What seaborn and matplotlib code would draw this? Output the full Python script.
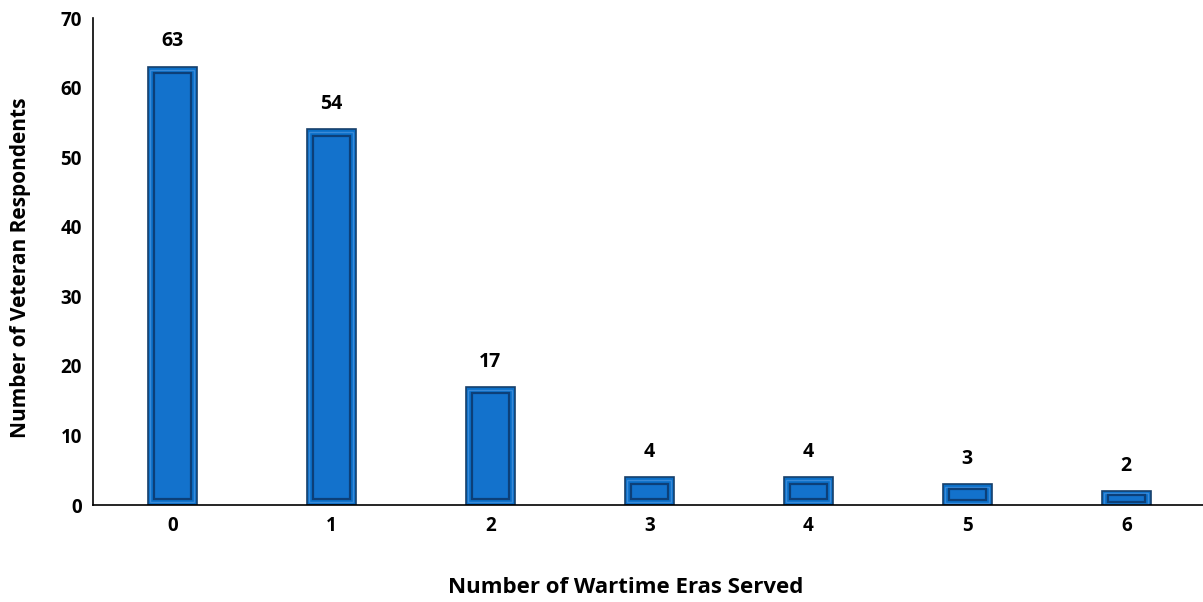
import numpy as np
import pandas as pd
import matplotlib
matplotlib.use("Agg")
import matplotlib.pyplot as plt
import seaborn as sns
from matplotlib.patches import Rectangle

# data
eras = ["0", "1", "2", "3", "4", "5", "6"]
respondents = [63, 54, 17, 4, 4, 3, 2]

df = pd.DataFrame({"eras": eras, "respondents": respondents})

sns.set_theme(style="white")
plt.rcParams["font.family"] = ["Open Sans", "DejaVu Sans"]
plt.rcParams["text.color"] = "black"
plt.rcParams["axes.labelcolor"] = "black"
plt.rcParams["xtick.color"] = "black"
plt.rcParams["ytick.color"] = "black"

fig = plt.figure(figsize=(12.03, 6.02), dpi=100)
ax = fig.add_axes([0.0773, 0.161, 0.925, 0.809])

sns.barplot(data=df, x="eras", y="respondents", color="#0a6fc8",
            width=0.31, edgecolor="#173f6b", linewidth=1.2, saturation=1, ax=ax)

# fake bevel: inner frame of darker / lighter edges inside each bar
for p in ax.patches:
    x0, y0 = p.get_x(), p.get_y()
    w, h = p.get_width(), p.get_height()
    dx = w * 0.12
    dy = min(0.9, h * 0.25)
    inner = Rectangle((x0 + dx, y0 + dy), w - 2 * dx, h - 2 * dy,
                      facecolor="#1372cc", edgecolor="#0c3f78", linewidth=1.6, zorder=p.get_zorder() + 0.1)
    ax.add_patch(inner)
    hl = Rectangle((x0 + dx * 0.45, y0 + dy * 0.45), w - 0.9 * dx, h - 0.9 * dy,
                   facecolor="none", edgecolor="#3a8ad8", linewidth=1.0, zorder=p.get_zorder() + 0.05)
    ax.add_patch(hl)

for i, v in enumerate(respondents):
    ax.annotate(str(v), (i, v), xytext=(0, 11), textcoords="offset points",
                ha="center", va="bottom", fontsize=14, fontweight="bold", color="black")

ax.set_xlim(-0.5, 6.5)
ax.set_ylim(0, 70)
ax.set_yticks(range(0, 71, 10))
ax.tick_params(axis="both", labelsize=13.5, length=0, pad=8, colors="black")
for lbl in ax.get_xticklabels() + ax.get_yticklabels():
    lbl.set_fontweight("bold")

ax.set_xlabel("Number of Wartime Eras Served", fontsize=16, fontweight="bold", color="black")
ax.set_ylabel("Number of Veteran Respondents", fontsize=15, fontweight="bold", color="black")
ax.xaxis.set_label_coords(0.479, -0.148)
ax.yaxis.set_label_coords(-0.056, 0.488)

sns.despine(ax=ax)
ax.spines["left"].set_color("black")
ax.spines["bottom"].set_color("black")
ax.spines["left"].set_linewidth(1.2)
ax.spines["bottom"].set_linewidth(1.2)

fig.savefig("out.png", dpi=100)
